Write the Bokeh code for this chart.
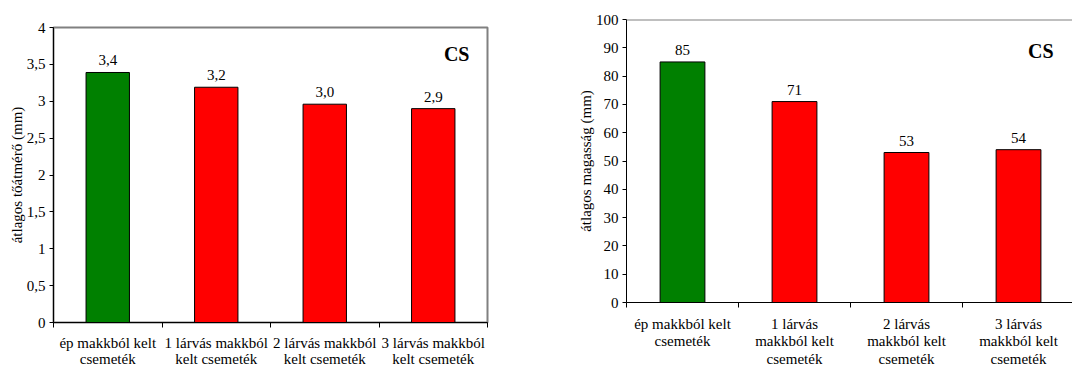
from bokeh.plotting import figure
from bokeh.layouts import row, column
from bokeh.models import (ColumnDataSource, FixedTicker, CustomJSTickFormatter,
                          LabelSet, Label, Range1d, Span)
from bokeh.embed import file_html
from bokeh.resources import INLINE

# Seedling groups (acorn condition)
categories_short = ["ép makkból kelt\ncsemeték",
                    "1 lárvás makkból\nkelt csemeték",
                    "2 lárvás makkból\nkelt csemeték",
                    "3 lárvás makkból\nkelt csemeték"]
categories_long = ["ép makkból kelt\ncsemeték",
                   "1 lárvás\nmakkból kelt\ncsemeték",
                   "2 lárvás\nmakkból kelt\ncsemeték",
                   "3 lárvás\nmakkból kelt\ncsemeték"]

# Mean root collar diameter (mm) and mean height (mm)
diameter = [3.39, 3.19, 2.96, 2.90]
height = [85, 71, 53, 54]
bar_colors = ["#008000", "#FF0000", "#FF0000", "#FF0000"]

diameter_ticks = [0, 0.5, 1, 1.5, 2, 2.5, 3, 3.5, 4]
height_ticks = [0, 10, 20, 30, 40, 50, 60, 70, 80, 90, 100]

FONT = "Liberation Serif"
centers = [i + 0.5 for i in range(len(categories_short))]
bounds = list(range(len(categories_short) + 1))


def bar_panel(values, labels, y_max, y_ticks, y_title, width, x_end,
              borders, value_fmt, cs_pos, label_standoff, line_height):
    top, right, bottom, left = borders
    p = figure(width=width, height=370, output_backend="svg",
               toolbar_location=None, x_range=Range1d(0, x_end),
               y_range=Range1d(0, y_max),
               min_border_top=top, min_border_right=right,
               min_border_bottom=bottom, min_border_left=left)
    p.background_fill_color = "white"
    p.border_fill_color = "white"
    p.xgrid.visible = False
    p.ygrid.visible = False

    src = ColumnDataSource(dict(x=centers, top=values, color=bar_colors,
                                label=[value_fmt(v) for v in values]))
    p.vbar(x="x", top="top", width=0.4, bottom=0, source=src,
           fill_color="color", line_color="black", line_width=1)

    p.add_layout(LabelSet(x="x", y="top", text="label", source=src,
                          text_align="center", text_baseline="alphabetic",
                          y_offset=7, text_font=FONT,
                          text_font_size="15px", text_color="black"))

    p.add_layout(Label(x=cs_pos[0], y=cs_pos[1], text="CS",
                       text_align="right", text_baseline="middle",
                       text_font=FONT, text_font_size="20px",
                       text_font_style="bold", text_color="black"))

    # x axis: labels centred on bars, tick marks between categories
    xa = p.xaxis[0]
    xa.ticker = FixedTicker(ticks=centers, minor_ticks=bounds)
    xa.major_label_overrides = {c: t for c, t in zip(centers, labels)}
    xa.major_tick_out = 0
    xa.major_tick_in = 0
    xa.minor_tick_out = 5
    xa.minor_tick_in = 0
    xa.minor_tick_line_color = "black"
    xa.axis_line_color = "black"
    xa.major_label_standoff = label_standoff
    xa.major_label_text_font = FONT
    xa.major_label_text_font_size = "15px"
    xa.major_label_text_line_height = line_height
    xa.major_label_text_color = "black"
    xa.major_label_text_align = "center"

    ya = p.yaxis[0]
    ya.ticker = FixedTicker(ticks=y_ticks, minor_ticks=[])
    ya.formatter = CustomJSTickFormatter(
        code="return tick.toString().replace('.', ',');")
    ya.major_tick_out = 4
    ya.major_tick_in = 0
    ya.axis_line_color = "black"
    ya.major_label_standoff = 4
    ya.major_label_text_font = FONT
    ya.major_label_text_font_size = "15px"
    ya.major_label_text_color = "black"
    ya.axis_label = y_title
    ya.axis_label_text_font = FONT
    ya.axis_label_text_font_size = "15px"
    ya.axis_label_text_font_style = "normal"
    ya.axis_label_text_color = "black"
    ya.axis_label_standoff = -1
    return p


left = bar_panel(diameter, categories_short, 4, diameter_ticks,
                 "átlagos tőátmérő (mm)", 540, 4, (27, 53, 48, 53),
                 lambda v: f"{v:.1f}".replace(".", ","), (3.834, 3.634),
                 7, 1.05)
left.outline_line_color = "#808080"
left.outline_line_width = 2

right = bar_panel(height, categories_long, 100, height_ticks,
                  "átlagos magasság (mm)", 532, 3.982, (19, 0, 68, 86),
                  lambda v: f"{v:d}", (3.8125, 88.7), 8, 1.1)
right.outline_line_color = None
right.add_layout(Span(location=100, dimension="width",
                      line_color="#808080", line_width=2))

layout = row(column(left), column(right))
open("out.html", "w").write(file_html(layout, INLINE))
